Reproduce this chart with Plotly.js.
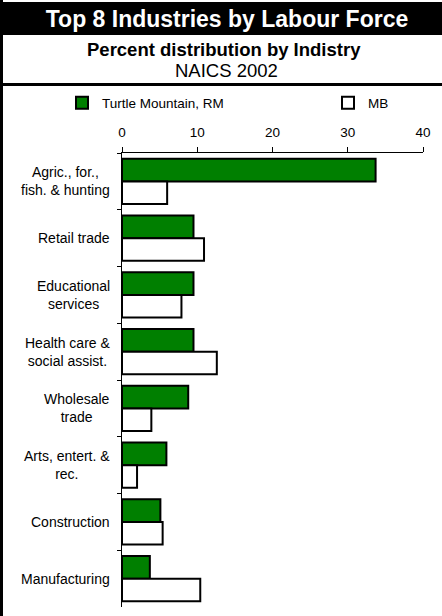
<!DOCTYPE html>
<html>
<head>
<meta charset="utf-8">
<script src="https://cdn.plot.ly/plotly-3.0.1.min.js"></script>
<style>html,body{margin:0;padding:0;background:#fff;}#chart{width:442px;height:616px;}</style>
</head>
<body>
<div id="chart"></div>
<script>
const categories = [
  "Agric., for.,<br>fish. & hunting",
  "Retail trade",
  "Educational<br>services",
  "Health care &<br>social assist.",
  "Wholesale<br>trade",
  "Arts, entert. &<br>rec.",
  "Construction",
  "Manufacturing"
];
const turtleMountain = [33.7, 9.5, 9.5, 9.5, 8.8, 5.9, 5.1, 3.7];
const mb = [6.0, 10.9, 7.9, 12.6, 3.9, 2.0, 5.4, 10.4];
const xTicks = [0, 10, 20, 30, 40];

const font = "Liberation Sans, Arial, sans-serif";
// plot area in pixels: x 122..423, y 153..607
const L = 122, R = 423, T = 153, B = 607;
const W = R - L, H = B - T;
const py = (p) => (B - p) / H;   // pixel y -> paper y
const px = (p) => (p - L) / W;   // pixel x -> paper x

const traces = [
  {
    type: "bar", orientation: "h", name: "Turtle Mountain, RM",
    y: categories, x: turtleMountain, legend: "legend",
    marker: {color: "#007F00", line: {color: "#000", width: 2}},
    hoverinfo: "x+y"
  },
  {
    type: "bar", orientation: "h", name: "MB",
    y: categories, x: mb, legend: "legend2",
    marker: {color: "#FFFFFF", line: {color: "#000", width: 2}},
    hoverinfo: "x+y"
  }
];

const legendBase = {
  orientation: "h", xref: "container", yref: "container",
  xanchor: "left", yanchor: "middle", itemwidth: 30,
  font: {family: font, size: 13.5, color: "#000"},
  bgcolor: "rgba(0,0,0,0)"
};

const layout = {
  width: 442, height: 616,
  margin: {l: L, r: 442 - R, t: T, b: 616 - B},
  paper_bgcolor: "#fff", plot_bgcolor: "#fff",
  font: {family: font, size: 13, color: "#000"},
  barmode: "group", bargap: 0.2, bargroupgap: 0,
  showlegend: true,
  legend: Object.assign({}, legendBase, {x: 62/442, y: 1 - 103/616}),
  legend2: Object.assign({}, legendBase, {x: 328/442, y: 1 - 103/616}),
  title: {
    text: "<b>Top 8 Industries by Labour Force</b>",
    font: {family: font, size: 23, color: "#fff"},
    x: 227/442, xanchor: "center", xref: "container",
    y: 1 - 19/616, yanchor: "middle", yref: "container"
  },
  xaxis: {
    side: "top", range: [0, 40], tickvals: xTicks, ticktext: xTicks.map(String),
    showgrid: false, zeroline: false, showline: true, linecolor: "#000", linewidth: 1,
    ticks: "outside", ticklen: 5, tickcolor: "#000", tickwidth: 1,
    ticklabelstandoff: 5,
    tickfont: {family: font, size: 13.5, color: "#000"}, fixedrange: true
  },
  yaxis: {
    autorange: "reversed", type: "category",
    showgrid: false, zeroline: false, showline: true, linecolor: "#000", linewidth: 1,
    ticks: "outside", ticklen: 4, tickcolor: "#000", tickwidth: 1, tickson: "boundaries",
    showticklabels: false, fixedrange: true
  },
  annotations: [
    {text: "<b>Percent distribution by Indistry</b>", xref: "paper", yref: "paper",
     x: px(224), xanchor: "center", y: py(49), yanchor: "middle", showarrow: false,
     font: {family: font, size: 18.5, color: "#000"}},
    {text: "NAICS 2002", xref: "paper", yref: "paper",
     x: px(226), xanchor: "center", y: py(71), yanchor: "middle", showarrow: false,
     font: {family: font, size: 18.5, color: "#000"}}
  ].concat(categories.map(c => ({
     text: c, xref: "paper", yref: "y", x: px(112), y: c,
     xanchor: "right", yanchor: "middle", align: "center", showarrow: false,
     font: {family: font, size: 14, color: "#000"}
  }))),
  shapes: [
    {type: "rect", xref: "paper", yref: "paper", layer: "below",
     x0: px(0), x1: px(442), y0: py(35), y1: py(2),
     fillcolor: "#000", line: {width: 0}},
    {type: "rect", xref: "paper", yref: "paper", layer: "below",
     x0: px(0), x1: px(3), y0: py(616), y1: py(0),
     fillcolor: "#000", line: {width: 0}},
    {type: "rect", xref: "paper", yref: "paper", layer: "below",
     x0: px(0), x1: px(442), y0: py(86), y1: py(83),
     fillcolor: "#000", line: {width: 0}}
  ]
};

Plotly.newPlot("chart", traces, layout, {displayModeBar: false, staticPlot: true});
</script>
</body>
</html>
